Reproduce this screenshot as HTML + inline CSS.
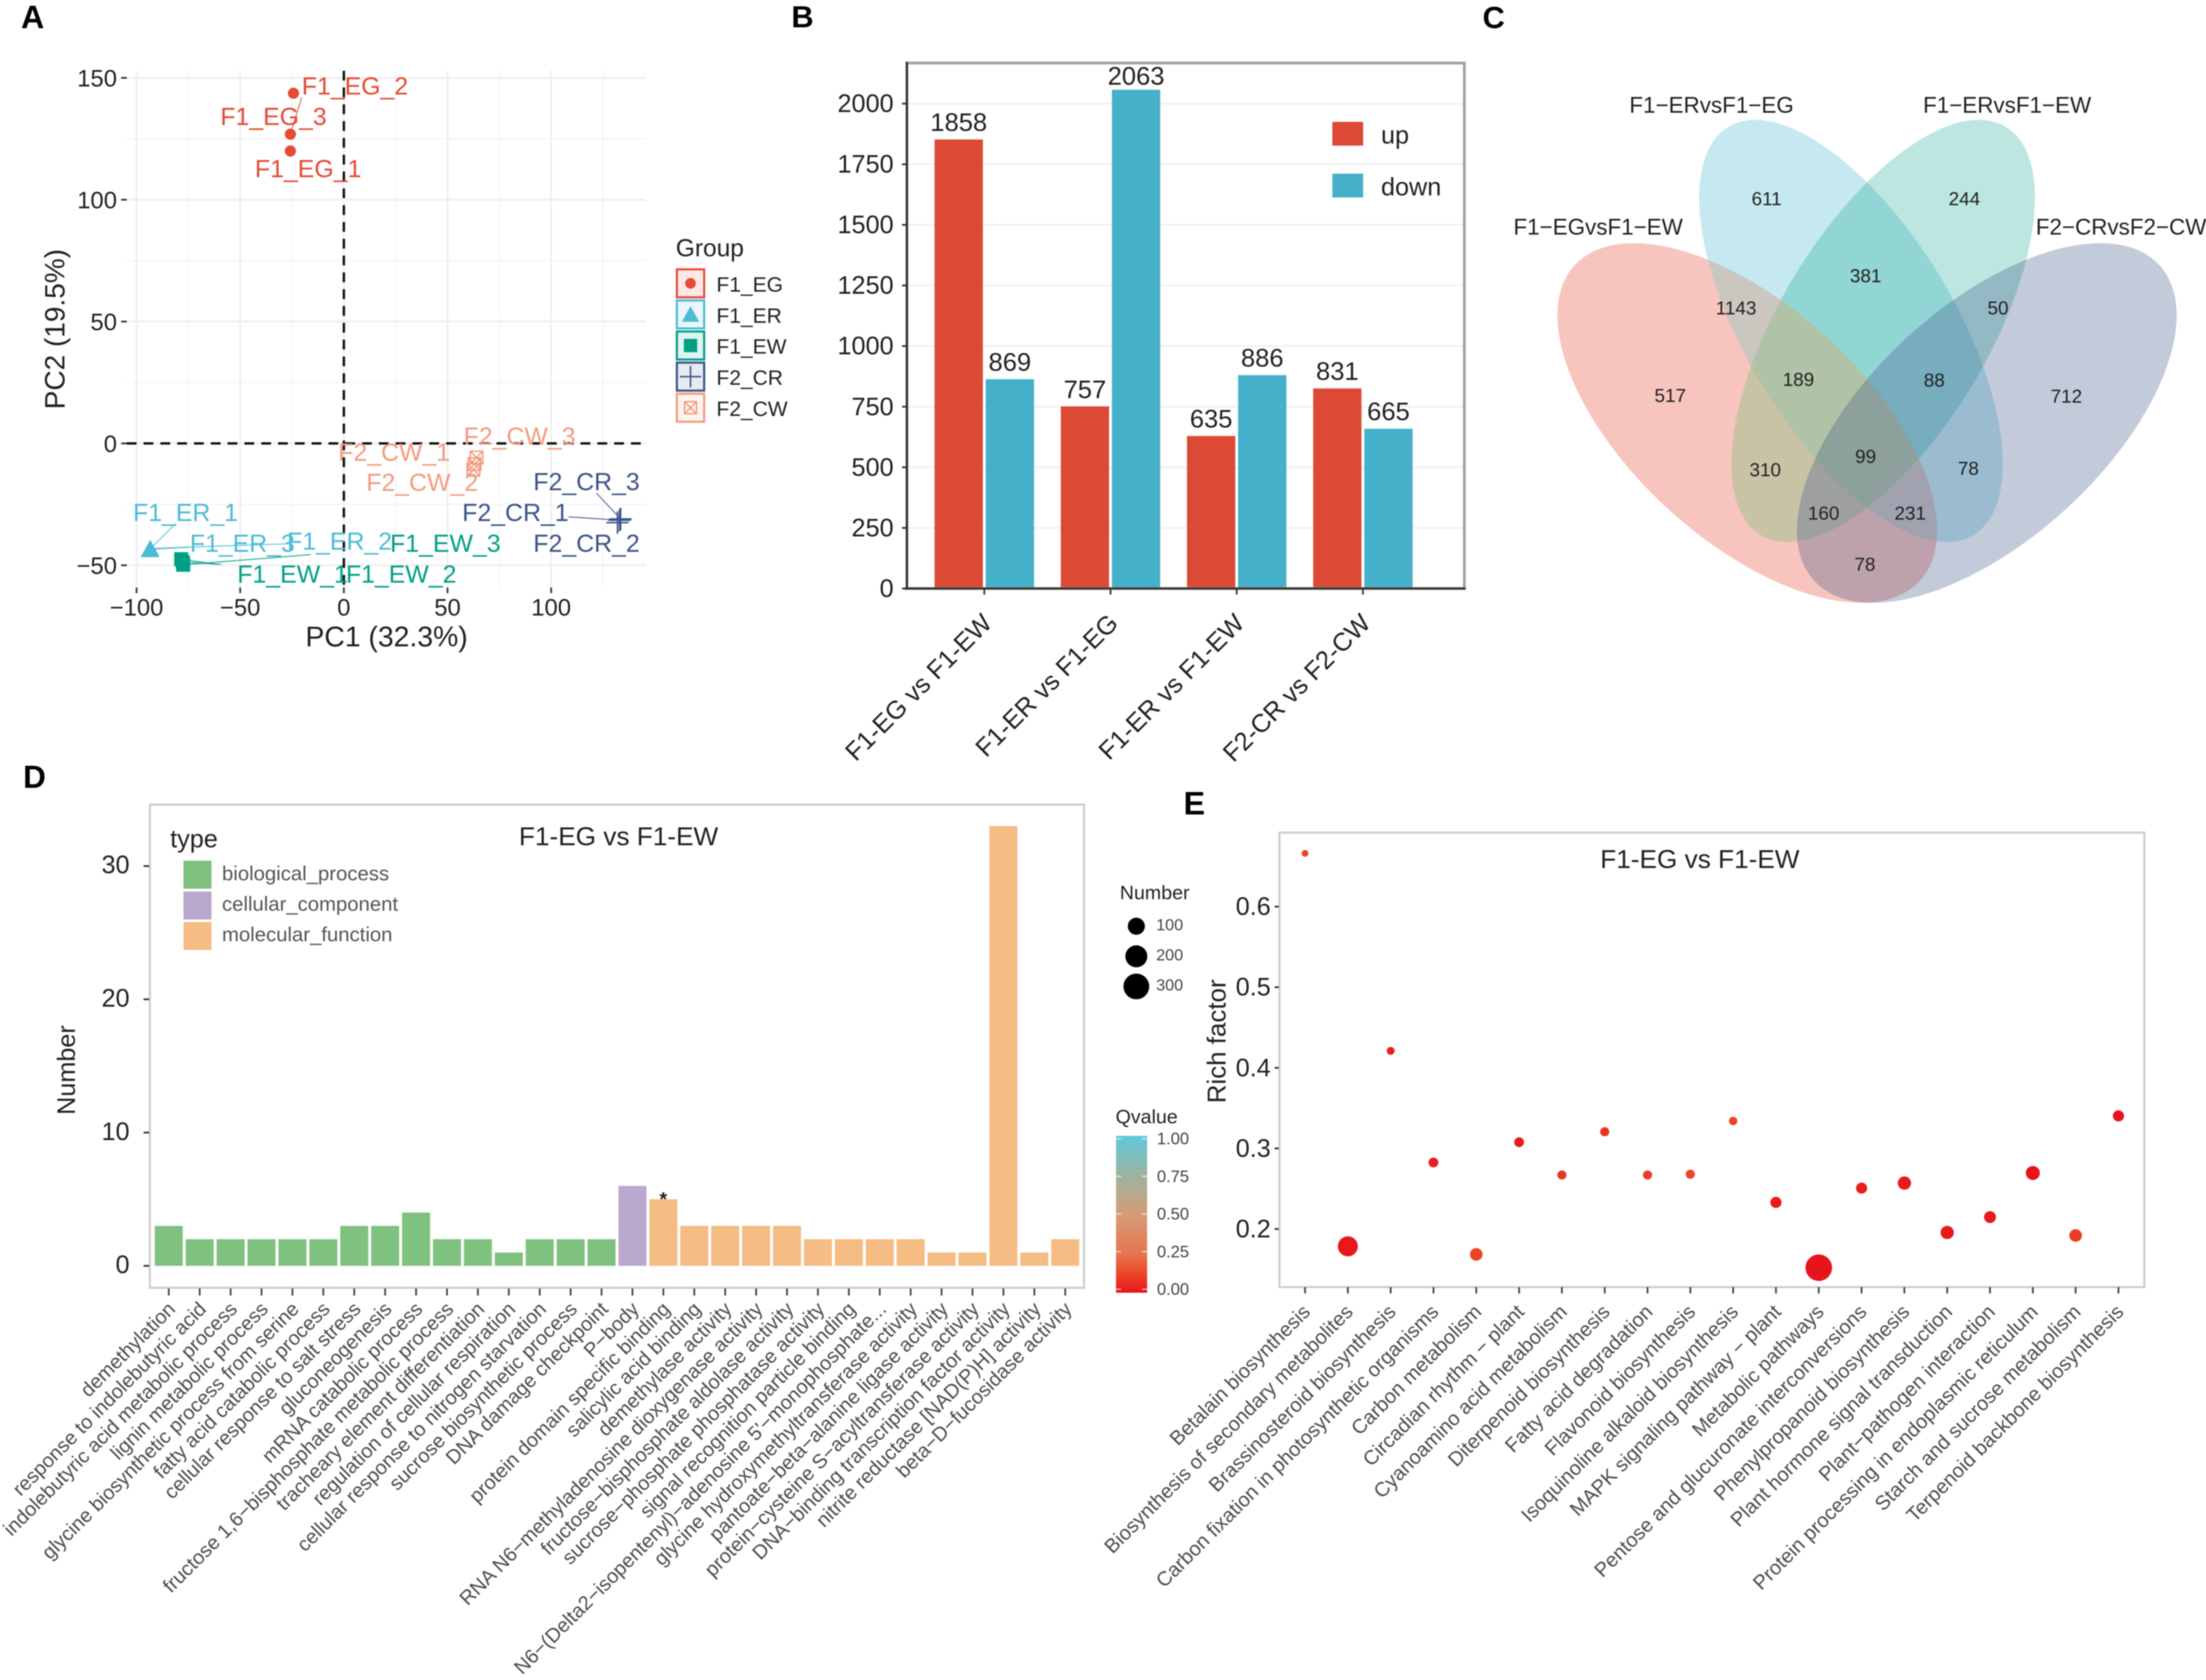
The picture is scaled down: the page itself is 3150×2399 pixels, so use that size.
<!DOCTYPE html>
<html lang="en">
<head>
<meta charset="utf-8">
<title>Multi-panel transcriptome figure</title>
<style>
html,body{margin:0;padding:0;background:#fff;}
svg{display:block;font-family:"Liberation Sans",Arial,sans-serif;filter:blur(0.7px);}
</style>
</head>
<body>
<svg id="figure" xmlns="http://www.w3.org/2000/svg" width="3150" height="2399" viewBox="0 0 3150 2399">
  <defs>
    <linearGradient id="qGradient" x1="0" y1="1" x2="0" y2="0">
      <stop offset="0" stop-color="#E8141C"/>
      <stop offset="0.12" stop-color="#EC4526"/>
      <stop offset="0.25" stop-color="#E4754E"/>
      <stop offset="0.5" stop-color="#D59C78"/>
      <stop offset="0.75" stop-color="#9CB3A0"/>
      <stop offset="1" stop-color="#5EC8DC"/>
    </linearGradient>
    <clipPath id="pinkClip">
      <ellipse cx="2495" cy="604" rx="334" ry="167" transform="rotate(42.4 2495 604)"/>
    </clipPath>
  </defs>
  <rect x="0" y="0" width="3150" height="2399" fill="#fff"/>

  <text x="30" y="40" font-size="46" font-weight="bold" fill="#000">A</text>
  <text x="1130" y="39" font-size="44" font-weight="bold" fill="#000">B</text>
  <text x="2117" y="40" font-size="44" font-weight="bold" fill="#000">C</text>
  <text x="33" y="1125" font-size="45" font-weight="bold" fill="#000">D</text>
  <text x="1690" y="1163" font-size="46" font-weight="bold" fill="#000">E</text>

  <!-- Panel A -->
  <g id="panelA">
    <g id="pcaGrid"></g>
    <line x1="491" y1="101" x2="491" y2="839" stroke="#111" stroke-width="3.4" stroke-dasharray="14 10"/>
    <line x1="181" y1="633.2" x2="922" y2="633.2" stroke="#111" stroke-width="3.4" stroke-dasharray="14 10"/>
    <g id="pcaAxes"></g>
    <g id="pcaMarks"></g>
    <text x="552" y="923" font-size="40.5" text-anchor="middle" fill="#222">PC1 (32.3%)</text>
    <text transform="translate(92 470) rotate(-90)" font-size="40" text-anchor="middle" fill="#222">PC2 (19.5%)</text>
    <text x="965" y="366" font-size="35" fill="#222">Group</text>
    <g id="pcaLegend"></g>
  </g>

  <!-- Panel B -->
  <g id="panelB">
    <g id="degGrid"></g>
    <g id="degBars"></g>
    <rect x="1295" y="90" width="796" height="750.4" fill="none" stroke="#a2a2a2" stroke-width="4"/>
    <line x1="1295" y1="88" x2="1295" y2="842" stroke="#333" stroke-width="3"/>
    <line x1="1291" y1="840.4" x2="2093" y2="840.4" stroke="#333" stroke-width="3"/>
    <g id="degAxes"></g>
    <rect x="1902.5" y="174" width="44" height="34" fill="#DC4A35"/>
    <rect x="1902.5" y="248" width="44" height="34" fill="#45B0CA"/>
    <text x="1972" y="205" font-size="36" fill="#222">up</text>
    <text x="1972" y="279" font-size="36" fill="#222">down</text>
  </g>

  <!-- Panel C -->
  <g id="panelC">
    <ellipse cx="2495" cy="604" rx="334" ry="167" transform="rotate(42.4 2495 604)" fill="#E64B35" fill-opacity="0.32"/>
    <ellipse cx="2643" cy="472.5" rx="340" ry="149" transform="rotate(59 2643 472.5)" fill="#4DBBD5" fill-opacity="0.32"/>
    <g clip-path="url(#pinkClip)">
      <ellipse cx="2643" cy="472.5" rx="340" ry="149" transform="rotate(59 2643 472.5)" fill="#FFDCB4" fill-opacity="0.2"/>
    </g>
    <ellipse cx="2689" cy="472.5" rx="340" ry="149" transform="rotate(-59 2689 472.5)" fill="#00A087" fill-opacity="0.26"/>
    <g clip-path="url(#pinkClip)">
      <ellipse cx="2689" cy="472.5" rx="340" ry="149" transform="rotate(-59 2689 472.5)" fill="#FFDC82" fill-opacity="0.25"/>
    </g>
    <ellipse cx="2837" cy="604" rx="334" ry="167" transform="rotate(-42.4 2837 604)" fill="#3C5488" fill-opacity="0.31"/>
    <text x="2444" y="161" font-size="32" text-anchor="middle" fill="#222">F1−ERvsF1−EG</text>
    <text x="2866" y="161" font-size="32" text-anchor="middle" fill="#222">F1−ERvsF1−EW</text>
    <text x="2282" y="335" font-size="32" text-anchor="middle" fill="#222">F1−EGvsF1−EW</text>
    <text x="2907" y="335" font-size="32" fill="#222">F2−CRvsF2−CW</text>
    <g font-size="27" text-anchor="middle" fill="#222">
      <text x="2522.6" y="293">611</text>
      <text x="2805" y="293">244</text>
      <text x="2664" y="403">381</text>
      <text x="2479" y="449">1143</text>
      <text x="2853" y="449">50</text>
      <text x="2385" y="574">517</text>
      <text x="2568" y="551">189</text>
      <text x="2762" y="552">88</text>
      <text x="2950.6" y="575">712</text>
      <text x="2664" y="661">99</text>
      <text x="2520.6" y="680">310</text>
      <text x="2810.6" y="678">78</text>
      <text x="2604" y="742">160</text>
      <text x="2727.6" y="742">231</text>
      <text x="2663" y="815">78</text>
    </g>
  </g>

  <!-- Panel D -->
  <g id="panelD">
    <rect x="214" y="1149" width="1334" height="690" fill="#fff" stroke="#cdcdcd" stroke-width="3"/>
    <g id="goBars"></g>
    <g id="goAxes"></g>
    <text transform="translate(107 1528) rotate(-90)" font-size="36" text-anchor="middle" fill="#222">Number</text>
    <text x="741" y="1207" font-size="37.4" fill="#222">F1-EG vs F1-EW</text>
    <text x="243" y="1210" font-size="36" fill="#222">type</text>
    <rect x="262" y="1229" width="40" height="40" fill="#7FC17F"/>
    <rect x="262" y="1273" width="40" height="40" fill="#BAA8CF"/>
    <rect x="262" y="1316.5" width="40" height="40" fill="#F5BC84"/>
    <text x="317" y="1257" font-size="29" fill="#555">biological_process</text>
    <text x="317" y="1300.5" font-size="29" fill="#555">cellular_component</text>
    <text x="317" y="1344" font-size="29" fill="#555">molecular_function</text>
  </g>

  <!-- Panel E -->
  <g id="panelE">
    <rect x="1827" y="1189" width="1235" height="649" fill="#fff" stroke="#cdcdcd" stroke-width="3"/>
    <g id="keggAxes"></g>
    <g id="keggDots"></g>
    <text transform="translate(1750 1487) rotate(-90)" font-size="37" text-anchor="middle" fill="#222">Rich factor</text>
    <text x="2285" y="1239.5" font-size="37.4" fill="#222">F1-EG vs F1-EW</text>
    <text x="1599" y="1284" font-size="28" fill="#222">Number</text>
    <g id="keggSizeLegend"></g>
    <text x="1593" y="1604" font-size="28" fill="#222">Qvalue</text>
    <rect x="1593.6" y="1622" width="44.4" height="224" fill="url(#qGradient)"/>
    <g id="keggColorLegend"></g>
  </g>
</svg>
<script>
/* ---------- Panel A data ---------- */
const pcaTicksX = [-100, -50, 0, 50, 100];
const pcaTicksY = [-50, 0, 50, 100, 150];
const pcaMinorX = [-75, -25, 25, 75, 125];
const pcaMinorY = [-25, 25, 75, 125];
const pcaGroups = ['F1_EG', 'F1_ER', 'F1_EW', 'F2_CR', 'F2_CW'];
const pcaSamples = ['F1_EG_1','F1_EG_2','F1_EG_3','F1_ER_1','F1_ER_2','F1_ER_3','F1_EW_1','F1_EW_2','F1_EW_3','F2_CR_1','F2_CR_2','F2_CR_3','F2_CW_1','F2_CW_2','F2_CW_3'];
const pcaSampleGroup = [0,0,0,1,1,1,2,2,2,3,3,3,4,4,4];
const pcaPc1 = [-25.8,-25.8,-24.3,-93.5,-93.4,-93.6,-78.5,-77.7,-77.5,133,132,133.5,63,62.5,64];
const pcaPc2 = [120,126.9,143.7,-43.3,-43.1,-43.5,-47.5,-48.7,-49.8,-31.5,-32.5,-31,-8.5,-10.8,-5.8];
const pcaLabelPc1 = [-42.9,-20.3,-59.6,-101.7,-27.4,-74.3,-51.4,1,22.3,57.1,91.4,91.4,-2.7,10.8,57.8];
const pcaLabelPc2 = [109.3,143.2,130.6,-31.8,-43.6,-44.5,-57.1,-57.1,-44.5,-31.8,-44.5,-19.2,-7.1,-19.5,-0.5];

/* ---------- Panel B data ---------- */
const degCategories = ['F1-EG vs F1-EW', 'F1-ER vs F1-EG', 'F1-ER vs F1-EW', 'F2-CR vs F2-CW'];
const degUp = [1858, 757, 635, 831];
const degDown = [869, 2063, 886, 665];
const degTicks = [0, 250, 500, 750, 1000, 1250, 1500, 1750, 2000];

/* ---------- Panel D data ---------- */
const goTerms = ['demethylation','response to indolebutyric acid','indolebutyric acid metabolic process','lignin metabolic process','glycine biosynthetic process from serine','fatty acid catabolic process','cellular response to salt stress','gluconeogenesis','mRNA catabolic process','fructose 1,6−bisphosphate metabolic process','tracheary element differentiation','regulation of cellular respiration','cellular response to nitrogen starvation','sucrose biosynthetic process','DNA damage checkpoint','P−body','protein domain specific binding','salicylic acid binding','demethylase activity','RNA N6−methyladenosine dioxygenase activity','fructose−bisphosphate aldolase activity','sucrose−phosphate phosphatase activity','signal recognition particle binding',"N6−(Delta2−isopentenyl)−adenosine 5'−monophosphate...",'glycine hydroxymethyltransferase activity','pantoate−beta−alanine ligase activity','protein−cysteine S−acyltransferase activity','DNA−binding transcription factor activity','nitrite reductase [NAD(P)H] activity','beta−D−fucosidase activity'];
const goCounts = [3,2,2,2,2,2,3,3,4,2,2,1,2,2,2,6,5,3,3,3,3,2,2,2,2,1,1,33,1,2];
const goTypes = [0,0,0,0,0,0,0,0,0,0,0,0,0,0,0,1,2,2,2,2,2,2,2,2,2,2,2,2,2,2];
const goSignificant = [16];
const goTicks = [0, 10, 20, 30];

/* ---------- Panel E data ---------- */
const keggPathways = ['Betalain biosynthesis','Biosynthesis of secondary metabolites','Brassinosteroid biosynthesis','Carbon fixation in photosynthetic organisms','Carbon metabolism','Circadian rhythm − plant','Cyanoamino acid metabolism','Diterpenoid biosynthesis','Fatty acid degradation','Flavonoid biosynthesis','Isoquinoline alkaloid biosynthesis','MAPK signaling pathway − plant','Metabolic pathways','Pentose and glucuronate interconversions','Phenylpropanoid biosynthesis','Plant hormone signal transduction','Plant−pathogen interaction','Protein processing in endoplasmic reticulum','Starch and sucrose metabolism','Terpenoid backbone biosynthesis'];
const keggRich = [0.666,0.1785,0.421,0.2825,0.1685,0.3077,0.267,0.3207,0.267,0.268,0.334,0.233,0.152,0.2507,0.257,0.1957,0.2148,0.2695,0.192,0.3403];
const keggNumber = [2,156,5,15,39,15,11,11,11,11,7,25,325,25,46,46,32,55,39,25];
const keggQ = [0.12,0.01,0.03,0.02,0.12,0.02,0.08,0.08,0.1,0.12,0.12,0.01,0,0.03,0.01,0.01,0.01,0,0.1,0];
const keggTicks = [0.2, 0.3, 0.4, 0.5, 0.6];
const keggSizeBreaks = [100, 200, 300];
const keggQBreaks = [0, 0.25, 0.5, 0.75, 1];

/* ---------- helpers ---------- */
const NS = 'http://www.w3.org/2000/svg';
function add(parent, tag, attrs, text) {
  const el = document.createElementNS(NS, tag);
  for (const k in attrs) el.setAttribute(k, attrs[k]);
  if (text !== undefined) el.textContent = text;
  parent.appendChild(el);
  return el;
}
function byId(id) { return document.getElementById(id); }
function slug(s) { return String(s).toLowerCase().replace(/[^a-z0-9]+/g, '-').replace(/^-|-$/g, ''); }
const fmtMinus = v => String(v).replace('-', '−');

/* ---------- Panel A ---------- */
const pcaX = v => 491 + 2.96 * v;
const pcaY = v => 633.2 - 3.48 * v;
const pcaColors = ['#E64B35', '#4DBBD5', '#00A087', '#3C5488', '#F39B7F'];

function drawPcaGlyph(parent, groupIndex, cx, cy, scale, name) {
  const c = pcaColors[groupIndex];
  let node;
  if (groupIndex === 0) {
    node = add(parent, 'circle', {cx: cx, cy: cy, r: 8 * scale, fill: c});
  } else if (groupIndex === 1) {
    const s = 13 * scale;
    node = add(parent, 'polygon', {points: (cx - s) + ',' + (cy + s * 0.85) + ' ' + (cx + s) + ',' + (cy + s * 0.85) + ' ' + cx + ',' + (cy - s * 0.95), fill: c});
  } else if (groupIndex === 2) {
    const s = 10 * scale;
    node = add(parent, 'rect', {x: cx - s, y: cy - s, width: 2 * s, height: 2 * s, fill: c});
  } else if (groupIndex === 3) {
    const s = 16 * scale;
    node = add(parent, 'path', {d: 'M' + (cx - s) + ' ' + cy + 'H' + (cx + s) + 'M' + cx + ' ' + (cy - s) + 'V' + (cy + s), fill: 'none', stroke: c, 'stroke-width': 2.2});
  } else {
    const s = 9 * scale;
    node = add(parent, 'path', {d: 'M' + (cx - s) + ' ' + (cy - s) + 'H' + (cx + s) + 'V' + (cy + s) + 'H' + (cx - s) + 'ZL' + (cx + s) + ' ' + (cy + s) + 'M' + (cx + s) + ' ' + (cy - s) + 'L' + (cx - s) + ' ' + (cy + s), fill: 'none', stroke: c, 'stroke-width': 2});
  }
  
  
}

pcaTicksX.forEach(function (v) {
  const g = add(byId('pcaGrid'), 'line', {x1: pcaX(v), y1: 101, x2: pcaX(v), y2: 839, stroke: '#f0f0f0', 'stroke-width': 3});
  
  
  const t = add(byId('pcaAxes'), 'line', {x1: pcaX(v), y1: 839, x2: pcaX(v), y2: 847, stroke: '#333', 'stroke-width': 2.5});
  
  
  const l = add(byId('pcaAxes'), 'text', {x: pcaX(v), y: 879, 'font-size': 34, 'text-anchor': 'middle', fill: '#222'}, fmtMinus(v));
  
  
});
pcaMinorX.forEach(function (v) {
  const g = add(byId('pcaGrid'), 'line', {x1: pcaX(v), y1: 101, x2: pcaX(v), y2: 839, stroke: '#f3f3f3', 'stroke-width': 1.6});
  
  
});
pcaTicksY.forEach(function (v) {
  const g = add(byId('pcaGrid'), 'line', {x1: 181, y1: pcaY(v), x2: 922, y2: pcaY(v), stroke: '#f0f0f0', 'stroke-width': 3});
  
  
  const t = add(byId('pcaAxes'), 'line', {x1: 173, y1: pcaY(v), x2: 181, y2: pcaY(v), stroke: '#333', 'stroke-width': 2.5});
  
  
  const l = add(byId('pcaAxes'), 'text', {x: 167, y: pcaY(v) + 12.5, 'font-size': 34, 'text-anchor': 'end', fill: '#222'}, fmtMinus(v));
  
  
});
pcaMinorY.forEach(function (v) {
  const g = add(byId('pcaGrid'), 'line', {x1: 181, y1: pcaY(v), x2: 922, y2: pcaY(v), stroke: '#f3f3f3', 'stroke-width': 1.6});
  
  
});

/* Connector end: where the line from the point to the label centre meets the label box
   (the F1_EG group uses the nearest box point, which gives its near-vertical connector). */
function connectorEnd(px, py, lx, ly, w, nearest) {
  const left = lx, right = lx + w, top = ly - 26, bottom = ly + 4;
  if (nearest) {
    return [Math.max(left, Math.min(px, right)), Math.max(top, Math.min(py, bottom))];
  }
  const cx = (left + right) / 2, cy = (top + bottom) / 2;
  const dx = cx - px, dy = cy - py;
  let t = 1;
  if (px < left && dx !== 0) t = Math.min(t, (left - px) / dx);
  if (px > right && dx !== 0) t = Math.min(t, (right - px) / dx);
  if (py < top && dy !== 0) t = Math.min(t, (top - py) / dy);
  if (py > bottom && dy !== 0) t = Math.min(t, (bottom - py) / dy);
  return [px + dx * t, py + dy * t];
}

pcaSamples.forEach(function (sample, i) {
  const gi = pcaSampleGroup[i];
  const color = pcaColors[gi];
  const px = pcaX(pcaPc1[i]);
  const py = pcaY(pcaPc2[i]);
  const lx = pcaX(pcaLabelPc1[i]);
  const ly = pcaY(pcaLabelPc2[i]);
  const w = sample.length * 21.7;
  const nx = Math.max(lx, Math.min(px, lx + w));
  const ny = Math.max(ly - 26, Math.min(py, ly + 4));
  if (Math.hypot(nx - px, ny - py) > 22) {
    const end = connectorEnd(px, py, lx, ly, w, gi === 0);
    const link = add(byId('pcaMarks'), 'line', {x1: px, y1: py, x2: end[0], y2: end[1], stroke: color, 'stroke-width': 1.5, 'stroke-opacity': 0.85});
    
    
  }
  drawPcaGlyph(byId('pcaMarks'), gi, px, py, 1, 'pca-point-' + slug(sample));
  const label = add(byId('pcaMarks'), 'text', {x: lx, y: ly, 'font-size': 35.5, fill: color}, sample);
  
  
});

pcaGroups.forEach(function (group, i) {
  const top = 384.6 + i * 44.4;
  const key = add(byId('pcaLegend'), 'rect', {x: 966.5, y: top, width: 39, height: 40, fill: pcaColors[i], 'fill-opacity': 0.12, stroke: pcaColors[i], 'stroke-width': 3});
  
  
  drawPcaGlyph(byId('pcaLegend'), i, 986, top + 20, 0.95, 'pca-legend-glyph-' + slug(group));
  const text = add(byId('pcaLegend'), 'text', {x: 1023, y: top + 31.8, 'font-size': 30, fill: '#222'}, group);
  
  
});

/* ---------- Panel B ---------- */
const degY = v => 840.4 - 0.3462 * v;
const degX = i => 1405.5 + 180.2 * i;
const degBarW = 69;

degTicks.forEach(function (v) {
  if (v > 0) {
    const g = add(byId('degGrid'), 'line', {x1: 1295, y1: degY(v), x2: 2091, y2: degY(v), stroke: '#eeeeee', 'stroke-width': 2});
    
    
  }
  const t = add(byId('degAxes'), 'line', {x1: 1288, y1: degY(v), x2: 1295, y2: degY(v), stroke: '#333', 'stroke-width': 2.5});
  
  
  const l = add(byId('degAxes'), 'text', {x: 1276, y: degY(v) + 12, 'font-size': 36, 'text-anchor': 'end', fill: '#222'}, v);
  
  
});

function drawDegBar(category, value, left, color, series) {
  const top = degY(value) + 2;
  const bar = add(byId('degBars'), 'rect', {x: left, y: top, width: degBarW, height: degY(0) - top, fill: color});
  
  
  const label = add(byId('degBars'), 'text', {x: left + degBarW / 2, y: Math.max(top - 12, 121), 'font-size': 36.5, 'text-anchor': 'middle', fill: '#222'}, value);
  
  
}

degCategories.forEach(function (category, i) {
  const c = degX(i);
  drawDegBar(category, degUp[i], c - 71, '#DC4A35', 'up');
  drawDegBar(category, degDown[i], c + 2, '#45B0CA', 'down');
  const t = add(byId('degAxes'), 'line', {x1: c, y1: 840.4, x2: c, y2: 849, stroke: '#333', 'stroke-width': 2.5});
  
  
  const bx = c + 13;
  const by = 892;
  const l = add(byId('degAxes'), 'text', {x: bx, y: by, 'font-size': 36.5, 'text-anchor': 'end', fill: '#222', transform: 'rotate(-45 ' + bx + ' ' + by + ')'}, category);
  
  
});

/* ---------- Panel D ---------- */
const goX = i => 241 + 44.14 * i;
const goY = v => 1807.6 - 19.03 * v;
const goColors = ['#7FC17F', '#BAA8CF', '#F5BC84'];

goTicks.forEach(function (v) {
  const t = add(byId('goAxes'), 'line', {x1: 205, y1: goY(v), x2: 213, y2: goY(v), stroke: '#333', 'stroke-width': 2.5});
  
  
  const l = add(byId('goAxes'), 'text', {x: 185, y: goY(v) + 10.5, 'font-size': 36, 'text-anchor': 'end', fill: '#222'}, v);
  
  
});

goTerms.forEach(function (term, i) {
  const c = goX(i);
  const top = goY(goCounts[i]);
  const bar = add(byId('goBars'), 'rect', {x: c - 20, y: top, width: 40, height: goY(0) - top, fill: goColors[goTypes[i]]});
  
  
  const t = add(byId('goAxes'), 'line', {x1: c, y1: 1840, x2: c, y2: 1850, stroke: '#444', 'stroke-width': 2.5});
  
  
  const bx = c + 11;
  const by = 1871;
  const l = add(byId('goAxes'), 'text', {x: bx, y: by, 'font-size': 28.5, 'text-anchor': 'end', fill: '#4d4d4d', transform: 'rotate(-45 ' + bx + ' ' + by + ')'}, term);
  
  
});

goSignificant.forEach(function (i) {
  const star = add(byId('goBars'), 'text', {x: goX(i), y: goY(goCounts[i]) + 9, 'font-size': 28, 'font-weight': 'bold', 'text-anchor': 'middle', fill: '#222'}, '*');
  
  
});

/* ---------- Panel E ---------- */
const keggX = i => 1863.5 + 61.13 * i;
const keggYScale = v => 1755 - 1151 * (v - 0.2);
const keggRadius = n => 3.73 + 0.847 * Math.sqrt(n);
const qStopAt = [0, 0.12, 0.25, 0.5, 0.75, 1];
const qStopRgb = [[232,20,28],[236,69,38],[228,117,78],[213,156,120],[156,179,160],[94,200,220]];
function qColor(q) {
  let k = 0;
  while (k < qStopAt.length - 2 && q > qStopAt[k + 1]) k++;
  const f = (q - qStopAt[k]) / (qStopAt[k + 1] - qStopAt[k]);
  const rgb = qStopRgb[k].map(function (a, j) { return Math.round(a + f * (qStopRgb[k + 1][j] - a)); });
  return 'rgb(' + rgb.join(',') + ')';
}

keggTicks.forEach(function (v) {
  const t = add(byId('keggAxes'), 'line', {x1: 1820, y1: keggYScale(v), x2: 1826, y2: keggYScale(v), stroke: '#333', 'stroke-width': 2.5});
  
  
  const l = add(byId('keggAxes'), 'text', {x: 1814.5, y: keggYScale(v) + 12, 'font-size': 36, 'text-anchor': 'end', fill: '#222'}, v.toFixed(1));
  
  
});

keggPathways.forEach(function (pathway, i) {
  const c = keggX(i);
  const dot = add(byId('keggDots'), 'circle', {cx: c, cy: keggYScale(keggRich[i]), r: keggRadius(keggNumber[i]), fill: qColor(keggQ[i])});
  
  
  const t = add(byId('keggAxes'), 'line', {x1: c, y1: 1838, x2: c, y2: 1847, stroke: '#444', 'stroke-width': 2.5});
  
  
  const bx = c + 9;
  const by = 1875;
  const l = add(byId('keggAxes'), 'text', {x: bx, y: by, 'font-size': 28.7, 'text-anchor': 'end', fill: '#4d4d4d', transform: 'rotate(-45 ' + bx + ' ' + by + ')'}, pathway);
  
  
});

keggSizeBreaks.forEach(function (n, i) {
  const cy = 1322.6 + 43 * i;
  const key = add(byId('keggSizeLegend'), 'circle', {cx: 1622.6, cy: cy, r: keggRadius(n), fill: '#000'});
  
  
  const l = add(byId('keggSizeLegend'), 'text', {x: 1651, y: cy + 6, 'font-size': 23, fill: '#444'}, n);
  
  
});

keggQBreaks.forEach(function (q) {
  const y = 1841 - 215 * q;
  const a = add(byId('keggColorLegend'), 'line', {x1: 1593.6, y1: y, x2: 1601, y2: y, stroke: '#fff', 'stroke-opacity': 0.75, 'stroke-width': 1.6});
  
  
  const b = add(byId('keggColorLegend'), 'line', {x1: 1630.5, y1: y, x2: 1638, y2: y, stroke: '#fff', 'stroke-opacity': 0.75, 'stroke-width': 1.6});
  
  
  const l = add(byId('keggColorLegend'), 'text', {x: 1652, y: y + 8, 'font-size': 23.6, fill: '#444'}, q.toFixed(2));
  
  
});
</script>
</body>
</html>
